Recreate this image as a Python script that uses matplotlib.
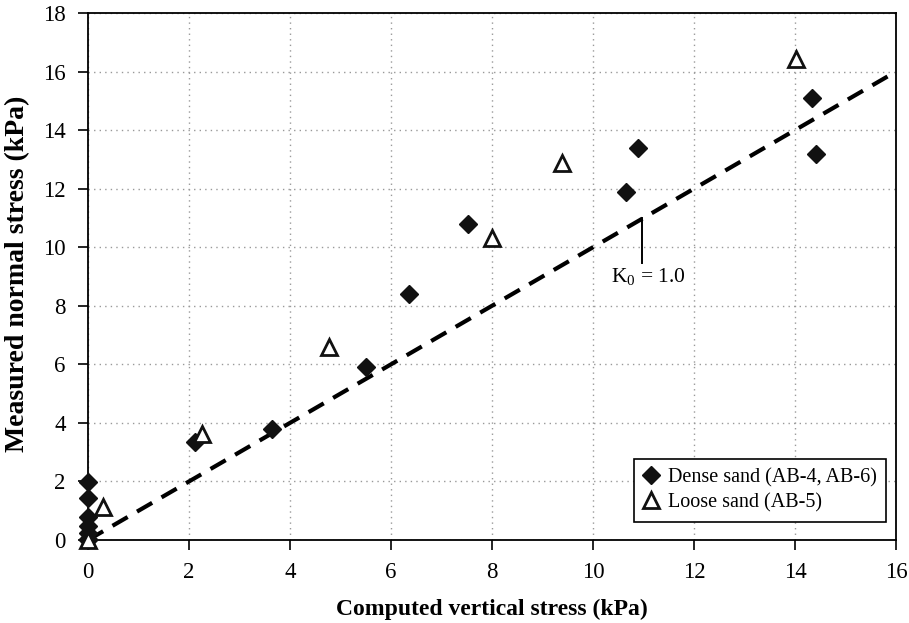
import matplotlib
matplotlib.use("Agg")
import matplotlib.pyplot as plt

plt.rcParams['font.family'] = ['Liberation Serif', 'DejaVu Serif']
plt.rcParams['mathtext.fontset'] = 'custom'
plt.rcParams['mathtext.rm'] = 'Liberation Serif'

dense_x = [0, 0, 0, 0, 0, 0, 0, 2.12, 3.64, 5.5, 6.36, 7.53, 10.65, 10.9, 14.34, 14.42]
dense_y = [1.98, 1.43, 0.79, 0.48, 0.24, 0.05, 0.0, 3.35, 3.79, 5.9, 8.4, 10.79, 11.9, 13.39, 15.1, 13.2]
loose_x = [0, 0.3, 2.26, 4.77, 8.0, 9.39, 14.02]
loose_y = [0, 1.13, 3.62, 6.59, 10.3, 12.87, 16.43]
k0_x = [0, 16]
k0_y = [0, 16]
xticks = [0, 2, 4, 6, 8, 10, 12, 14, 16]
yticks = [0, 2, 4, 6, 8, 10, 12, 14, 16, 18]

fig = plt.figure(figsize=(9.09, 6.23), dpi=100)
ax = fig.add_axes([0.0968, 0.1332, 0.8889, 0.8459])

ax.plot(k0_x, k0_y, color='black', lw=3, dashes=(4.2, 2.6), zorder=2)
ax.plot(dense_x, dense_y, linestyle='none', marker='D', markersize=9,
        color='#111111', label='Dense sand (AB-4, AB-6)', zorder=3, clip_on=False)
ax.plot(loose_x, loose_y, linestyle='none', marker='^', markersize=11,
        markerfacecolor='white', markeredgecolor='#111111', markeredgewidth=2,
        label='Loose sand (AB-5)', zorder=3, clip_on=False)

# K0 annotation: vertical pointer line and label
ax.plot([10.97, 10.97], [11.0, 9.45], color='black', lw=1.4, zorder=2)
ax.text(11.09, 8.98, 'K$_0$ = 1.0', ha='center', va='center', fontsize=15.5)

ax.set_xlim(0, 16)
ax.set_ylim(0, 18)
ax.set_xticks(xticks)
ax.set_yticks(yticks)
ax.tick_params(direction='out', length=7, width=1.2, labelsize=16.5, pad=9,
               top=False, right=False)
ax.grid(True, color='#999999', linestyle=(0, (1, 3)), lw=1)
for s in ax.spines.values():
    s.set_linewidth(1.3)
    s.set_color('black')

ax.set_xlabel('Computed vertical stress (kPa)', fontsize=17, fontweight='bold', labelpad=11)
ax.set_ylabel('Measured normal stress (kPa)', fontsize=20, fontweight='bold', labelpad=8)
ax.yaxis.set_label_coords(-0.072, 0.505)

leg = ax.legend(loc='lower right', bbox_to_anchor=(0.9995, 0.016), fontsize=14.5,
                frameon=True, fancybox=False, edgecolor='black', framealpha=1,
                handlelength=0.8, handletextpad=0.4, borderpad=0.45, labelspacing=0.3)
leg.get_frame().set_linewidth(1.2)

fig.savefig('out.png', dpi=100)
